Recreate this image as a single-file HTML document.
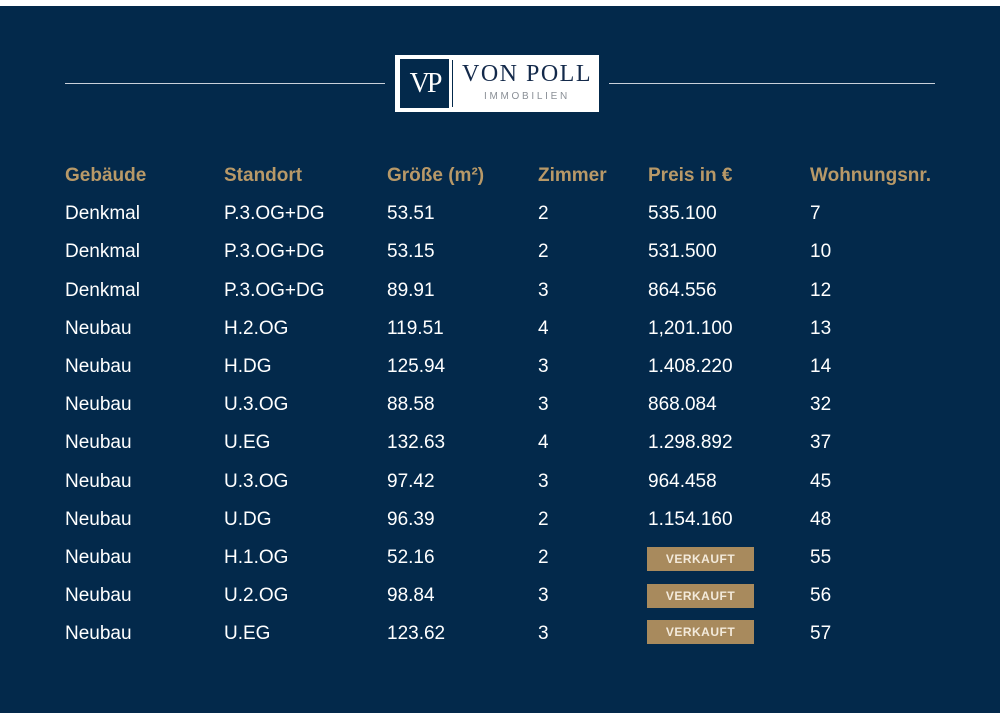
<!DOCTYPE html>
<html><head><meta charset="utf-8"><style>
body{margin:0;width:1000px;height:715px;background:#fff;position:relative;overflow:hidden;font-family:"Liberation Sans",sans-serif}
#bg{position:absolute;left:0;top:6px;width:1000px;height:707px;background:#03294b}
.ln{position:absolute;top:83px;height:1px;background:#c9d0da}
.t{position:absolute;font-size:19px;color:#fff;white-space:nowrap;line-height:20px}
.h{color:#b89968;font-weight:bold}
.b{position:absolute;left:647px;width:107px;height:24px;background:#a88a5d;color:#f3eadb;font-size:12px;font-weight:bold;letter-spacing:.5px;text-align:center;line-height:24px}
</style></head><body>
<div id="bg"></div>
<div class="ln" style="left:65px;width:320px"></div>
<div class="ln" style="left:609px;width:326px"></div>
<div style="position:absolute;left:395px;top:55px;width:204px;height:57px;background:#fff"></div>
<div style="position:absolute;left:400px;top:59px;width:49px;height:49px;background:#03294b;color:#fff;font-family:'Liberation Serif',serif;font-size:28px;line-height:49px;text-align:center;letter-spacing:-3px">VP</div>
<div style="position:absolute;left:452px;top:60px;width:1px;height:47px;background:#03294b"></div>
<div style="position:absolute;left:462px;top:61px;font-family:'Liberation Serif',serif;font-size:24px;color:#13294a;letter-spacing:1.5px;white-space:nowrap">VON POLL</div>
<div style="position:absolute;left:484px;top:91px;font-size:10px;color:#8a8f96;letter-spacing:2.7px">IMMOBILIEN</div>
<div id="rows"></div>
<script>
var cols=[65,224,387,538,648,810];
var data=[["Gebäude","Standort","Größe (m²)","Zimmer","Preis in €","Wohnungsnr."],
["Denkmal","P.3.OG+DG","53.51","2","535.100","7"],
["Denkmal","P.3.OG+DG","53.15","2","531.500","10"],
["Denkmal","P.3.OG+DG","89.91","3","864.556","12"],
["Neubau","H.2.OG","119.51","4","1,201.100","13"],
["Neubau","H.DG","125.94","3","1.408.220","14"],
["Neubau","U.3.OG","88.58","3","868.084","32"],
["Neubau","U.EG","132.63","4","1.298.892","37"],
["Neubau","U.3.OG","97.42","3","964.458","45"],
["Neubau","U.DG","96.39","2","1.154.160","48"],
["Neubau","H.1.OG","52.16","2","","55"],
["Neubau","U.2.OG","98.84","3","","56"],
["Neubau","U.EG","123.62","3","","57"]];
var ys=[174,212,250,289,327,365,403,441,480,518,556,594,632];
var h="";
data.forEach(function(r,i){r.forEach(function(c,j){
 if(c!=="")h+='<div class="t'+(i==0?' h':'')+'" style="left:'+cols[j]+'px;top:'+(ys[i]-8)+'px">'+c+'</div>';});});
[559,596,632].forEach(function(y){h+='<div class="b" style="top:'+(y-12)+'px">VERKAUFT</div>';});
document.getElementById("rows").innerHTML=h;
</script>
</body></html>
